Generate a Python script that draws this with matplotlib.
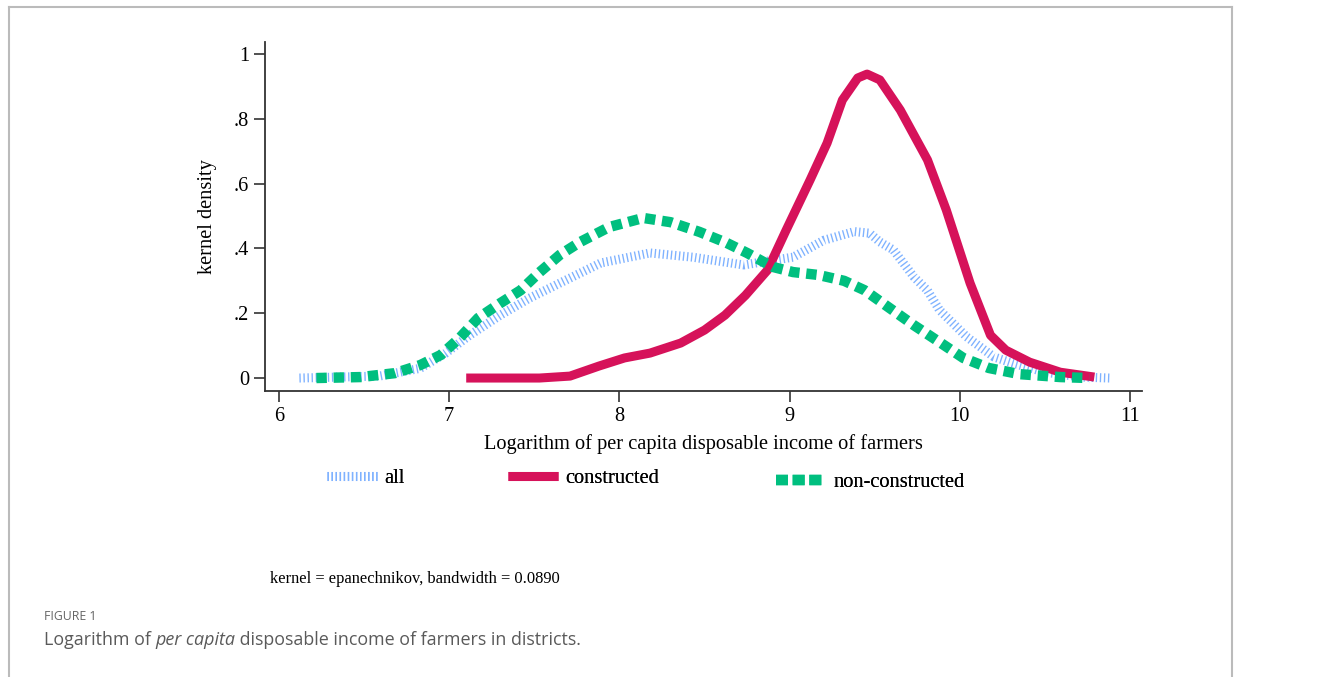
import matplotlib.pyplot as plt
from matplotlib.lines import Line2D

# log per capita disposable income of farmers (x) and kernel density (y)
all_x = [6.12, 6.59, 6.83, 6.98, 7.12, 7.30, 7.47, 7.65, 7.89, 8.18, 8.43, 8.73,
         9.02, 9.20, 9.38, 9.47, 9.53, 9.61, 9.73, 9.81, 9.88, 10.04, 10.20, 10.31,
         10.50, 10.71, 10.88]
all_y = [0.0, 0.006, 0.03, 0.077, 0.132, 0.194, 0.246, 0.293, 0.355, 0.386, 0.373, 0.349,
         0.373, 0.425, 0.452, 0.447, 0.420, 0.395, 0.312, 0.270, 0.210, 0.127, 0.065, 0.046,
         0.018, 0.003, 0.0]

con_x = [7.10, 7.53, 7.71, 7.88, 8.03, 8.18, 8.36, 8.50, 8.62, 8.74, 8.87, 8.98,
         9.12, 9.22, 9.31, 9.40, 9.455, 9.53, 9.65, 9.81, 9.92, 10.06, 10.18, 10.27,
         10.41, 10.59, 10.79]
con_y = [0.0, 0.0, 0.006, 0.037, 0.062, 0.077, 0.108, 0.148, 0.194, 0.255, 0.333, 0.457,
         0.611, 0.725, 0.858, 0.926, 0.938, 0.920, 0.827, 0.673, 0.519, 0.293, 0.132, 0.086,
         0.049, 0.018, 0.003]

non_x = [6.22, 6.48, 6.68, 6.83, 6.95, 7.06, 7.17, 7.30, 7.42, 7.53, 7.65, 7.77,
         7.94, 8.14, 8.30, 8.47, 8.63, 8.75, 8.90, 9.02, 9.17, 9.32, 9.44, 9.59,
         9.73, 9.88, 10.02, 10.17, 10.35, 10.59, 10.76]
non_y = [0.0, 0.003, 0.015, 0.040, 0.071, 0.123, 0.185, 0.231, 0.271, 0.326, 0.380, 0.420,
         0.466, 0.494, 0.481, 0.451, 0.417, 0.386, 0.343, 0.327, 0.318, 0.300, 0.271, 0.215,
         0.163, 0.111, 0.062, 0.031, 0.012, 0.003, 0.0]

xticks = [6, 7, 8, 9, 10, 11]
yticks = [0, 0.2, 0.4, 0.6, 0.8, 1.0]
ytick_labels = ["0", ".2", ".4", ".6", ".8", "1"]

c_all = "#7fb2ff"
c_con = "#d6125a"
c_non = "#00bf7f"

serif = "Liberation Serif"
fs = 14.7

fig = plt.figure(figsize=(13.33, 6.77), dpi=100)
W, H = 1333, 677
ax = fig.add_axes([265 / W, 1 - 391 / H, (1142 - 265) / W, (391 - 42) / H])

all_style = dict(color=c_all, lw=6.5, dashes=(0.15, 0.3), dash_capstyle="butt")
con_style = dict(color=c_con, lw=6.5, solid_capstyle="butt", solid_joinstyle="round")
non_style = dict(color=c_non, lw=7.5, dashes=(1.0, 0.65), dash_capstyle="butt")

ax.plot(all_x, all_y, **all_style)
ax.plot(con_x, con_y, **con_style)
ax.plot(non_x, non_y, **non_style)

ax.set_xlim(5.918, 11.07)
ax.set_ylim(-0.04, 1.037)
ax.set_xticks(xticks)
ax.set_xticklabels([str(t) for t in xticks])
ax.set_yticks(yticks)
ax.set_yticklabels(ytick_labels)
for s in ["top", "right"]:
    ax.spines[s].set_visible(False)
for s in ["left", "bottom"]:
    ax.spines[s].set_color("#333333")
    ax.spines[s].set_linewidth(1.3)
ax.tick_params(direction="out", length=8, width=1.2, color="#333333", labelsize=fs)
for lab in ax.get_xticklabels() + ax.get_yticklabels():
    lab.set_family(serif)
ax.set_xlabel("Logarithm of per capita disposable income of farmers",
              family=serif, fontsize=fs, labelpad=6)
ax.set_ylabel("kernel density", family=serif, fontsize=fs, labelpad=12)

# legend: three separate entries spread under the axis
entries = [
    (Line2D([], [], **all_style), "all", 327, 478),
    (Line2D([], [], **con_style), "constructed", 508, 478),
    (Line2D([], [], color=c_non, lw=7.5, dashes=(1.15, 0.45), dash_capstyle="butt"),
     "non-constructed", 776, 482),
]
for h, lab, px, py in entries:
    lg = fig.legend(handles=[h], labels=[lab], loc="center left",
                    bbox_to_anchor=(px / W, 1 - py / H), frameon=False,
                    handlelength=2.45, handletextpad=0.35, borderpad=0, borderaxespad=0,
                    prop={"family": serif, "size": fs})
    fig.add_artist(lg)

fig.text(270 / W, 1 - 579 / H, "kernel = epanechnikov, bandwidth = 0.0890",
         family=serif, fontsize=11.9, va="center", ha="left")

# caption below the chart
fig.text(44 / W, 1 - 617 / H, "FIGURE 1", family="Open Sans", fontsize=8.8,
         color="#666666", va="center")
renderer = fig.canvas.get_renderer()
x0 = 44 / W
for part, style in [("Logarithm of ", "normal"), ("per capita", "italic"),
                    (" disposable income of farmers in districts.", "normal")]:
    t = fig.text(x0, 1 - 640 / H, part, family="Open Sans", style=style,
                 fontsize=12.9, color="#5a5a5a", va="center")
    bb = t.get_window_extent(renderer)
    x0 = bb.x1 / (fig.dpi * fig.get_figwidth())

# border of the figure panel
bc = "#bbbbbb"
fig.add_artist(Line2D([9 / W, 1232 / W], [1 - 6.5 / H, 1 - 6.5 / H], color=bc, lw=1.5))
fig.add_artist(Line2D([9 / W, 9 / W], [0, 1 - 6.5 / H], color=bc, lw=1.5))
fig.add_artist(Line2D([1232 / W, 1232 / W], [0, 1 - 6.5 / H], color=bc, lw=1.5))

fig.savefig("out.png", dpi=100)
